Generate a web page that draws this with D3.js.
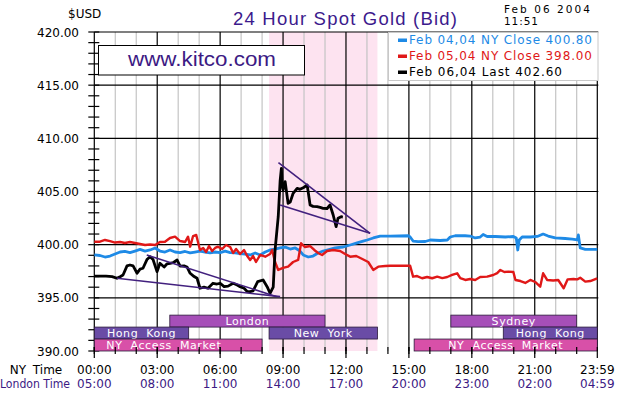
<!DOCTYPE html>
<html><head><meta charset="utf-8">
<script src="https://cdn.jsdelivr.net/npm/d3@7"></script>
<style>
html,body{margin:0;padding:0;background:#fff;}
svg{display:block;font-family:"DejaVu Sans",sans-serif;}
</style></head>
<body><svg id="c" width="630" height="400"></svg>
<script>
// ---------- data ----------
const tickHours = [0,3,6,9,12,15,18,21,23.983];
const nyTimes = ["00:00","03:00","06:00","09:00","12:00","15:00","18:00","21:00","23:59"];
const londonTimes = ["05:00","08:00","11:00","14:00","17:00","20:00","23:00","02:00","04:59"];
const yTicks = [390,395,400,405,410,415,420];
const yLabels = ["390.00","395.00","400.00","405.00","410.00","415.00","420.00"];

// Feb 04 NY close series [hour, price]
const feb04 = [[0,399.03],[0.27,398.98],[0.51,398.84],[0.75,398.93],[0.99,399.12],[1.23,399.31],[1.46,399.36],[1.70,399.26],[1.94,399.40],[2.18,399.55],[2.42,399.40],[2.66,399.50],[2.90,399.69],[3.13,399.40],[3.37,399.31],[3.61,399.50],[3.85,399.31],[4.09,399.26],[4.33,399.36],[4.57,399.22],[4.80,399.31],[5.04,399.40],[5.28,399.31],[5.52,399.22],[5.76,399.31],[6.00,399.26],[6.24,399.40],[6.48,399.26],[6.71,399.22],[6.95,399.17],[7.19,399.12],[7.43,399.03],[7.67,399.22],[7.91,399.03],[8.15,399.31],[8.38,399.50],[8.62,399.59],[8.86,399.69],[9.10,399.78],[9.34,399.59],[9.58,399.69],[9.81,399.40],[9.96,399.03],[10.2,398.84],[10.43,398.93],[10.67,399.22],[10.91,399.40],[11.1,399.50],[11.48,399.69],[11.87,399.78],[12.2,399.97],[12.53,400.16],[12.82,400.34],[13.01,400.44],[13.3,400.63],[13.63,400.81],[14.11,400.81],[14.97,400.84],[15.06,400.72],[15.2,400.34],[15.44,400.28],[15.78,400.30],[16.02,400.44],[16.49,400.39],[16.83,400.44],[16.97,400.72],[17.21,400.84],[17.68,400.84],[17.92,400.81],[18.16,400.63],[18.4,400.72],[18.54,400.96],[18.73,400.77],[19.12,400.77],[19.6,400.72],[19.98,400.77],[20.12,400.63],[20.19,399.50],[20.26,400.44],[20.4,400.72],[20.79,400.72],[21.12,400.77],[21.4,401.00],[21.64,400.81],[21.98,400.63],[22.45,400.58],[22.79,400.53],[23.03,400.44],[23.08,400.91],[23.17,399.69],[23.41,399.56],[23.98,399.56]];

// Feb 05 NY close series
const feb05 = [[0,400.28],[0.27,400.28],[0.51,400.44],[0.75,400.34],[0.99,400.20],[1.23,400.25],[1.46,400.16],[1.70,400.25],[1.94,400.16],[2.18,400.06],[2.42,399.97],[2.66,400.01],[2.90,399.97],[3.13,400.25],[3.37,400.28],[3.61,400.63],[3.85,400.75],[4.09,400.34],[4.33,400.25],[4.47,400.75],[4.57,399.81],[4.71,400.81],[4.86,400.91],[5.04,399.50],[5.19,399.69],[5.33,399.31],[5.47,399.87],[5.62,399.40],[5.76,399.69],[5.90,399.81],[6.10,399.59],[6.28,399.97],[6.48,399.78],[6.62,399.22],[6.76,399.59],[6.95,399.12],[7.14,399.50],[7.29,398.93],[7.43,398.56],[7.57,398.93],[7.71,398.37],[7.91,399.03],[8.15,398.87],[8.38,399.12],[8.48,399.50],[8.62,398.37],[8.77,397.62],[9.0,397.81],[9.24,397.93],[9.48,398.37],[9.72,398.56],[9.86,400.13],[10.05,399.78],[10.29,399.87],[10.49,399.50],[10.67,399.22],[10.86,399.03],[11.1,399.40],[11.39,399.50],[11.72,399.40],[11.96,399.12],[12.2,398.87],[12.49,398.93],[12.78,398.65],[13.06,398.37],[13.3,397.62],[13.54,397.93],[13.87,397.99],[14.11,398.02],[14.58,398.02],[15.06,398.02],[15.2,396.99],[15.39,397.05],[15.63,396.84],[15.87,396.96],[16.11,396.84],[16.35,396.99],[16.59,396.86],[16.83,396.96],[17.06,397.15],[17.3,397.31],[17.45,396.86],[17.69,396.68],[17.92,396.77],[18.16,396.68],[18.4,396.96],[18.73,396.99],[19.02,397.15],[19.21,397.33],[19.36,397.62],[19.55,397.43],[19.74,397.46],[19.98,397.43],[20.08,396.68],[20.32,396.58],[20.55,396.40],[20.79,396.68],[21.02,396.49],[21.26,396.05],[21.4,397.31],[21.59,396.68],[21.88,396.63],[22.12,396.68],[22.38,395.90],[22.57,396.74],[22.85,396.77],[23.03,396.74],[23.17,396.89],[23.41,396.52],[23.65,396.58],[23.98,396.84]];

// Feb 06 live series
const feb06 = [[0,397.05],[0.27,397.05],[0.56,397.05],[0.85,397.0],[1.08,396.84],[1.23,396.99],[1.37,397.15],[1.56,398.0],[1.70,398.09],[1.85,398.0],[2.04,397.31],[2.18,397.7],[2.32,397.78],[2.51,398.6],[2.66,398.87],[2.80,398.6],[2.99,397.46],[3.13,398.25],[3.33,397.9],[3.47,398.2],[3.61,398.25],[3.76,398.3],[3.95,398.56],[4.09,397.98],[4.28,398.0],[4.42,397.9],[4.57,397.31],[4.76,397.0],[4.90,396.84],[5.04,395.90],[5.23,396.0],[5.42,395.9],[5.66,396.37],[5.85,396.3],[6.00,396.37],[6.19,396.05],[6.38,396.1],[6.62,396.37],[6.81,396.2],[6.95,396.05],[7.14,395.9],[7.29,395.6],[7.43,395.58],[7.57,395.65],[7.79,396.52],[8.05,396.68],[8.24,396.05],[8.38,395.43],[8.53,396.0],[8.62,399.5],[8.77,402.63],[8.86,406.0],[8.92,407.18],[8.96,405.5],[9.0,405.14],[9.10,405.92],[9.24,403.89],[9.34,404.0],[9.48,404.83],[9.67,405.30],[9.81,405.2],[9.96,405.35],[10.15,405.61],[10.29,403.73],[10.43,403.6],[10.62,403.57],[10.77,403.5],[10.91,403.42],[11.1,403.4],[11.24,403.73],[11.39,402.79],[11.53,401.69],[11.62,402.48],[11.77,402.63],[11.85,402.60]];

// trend-line annotations: [[hour, price],[hour, price]]
const trendLines = [
  [[1.08,396.84],[8.86,395.11]],
  [[2.5,399.03],[8.70,395.11]],
  [[8.78,407.71],[13.15,401.07]],
  [[8.86,403.73],[13.15,401.07]]
];

// market sessions: name, start hour, end hour, row (0 top), kind
const sessions = [
  {name:"London", start:3.6, end:11.0, row:0, kind:"eu"},
  {name:"Sydney", start:17.0, end:23.0, row:0, kind:"eu"},
  {name:"Hong Kong", start:0, end:4.5, row:1, kind:"asia"},
  {name:"New York", start:8.333, end:13.5, row:1, kind:"asia"},
  {name:"Hong Kong", start:19.5, end:23.983, row:1, kind:"asia"},
  {name:"NY Access Market", start:0, end:8.0, row:2, kind:"acc"},
  {name:"NY Access Market", start:15.25, end:23.983, row:2, kind:"acc"}
];
const comexBand = [8.333, 13.5];

const legendItems = [
  {label:"Feb 04,04 NY Close 400.80", color:"#1e8ae6"},
  {label:"Feb 05,04 NY Close 398.00", color:"#e01818"},
  {label:"Feb 06,04 Last 402.60", color:"#000000"}
];

// ---------- drawing ----------
const svg = d3.select("#c");
const x = d3.scaleLinear().domain([0,23.983]).range([94.3,597.3]);
const y = d3.scaleLinear().domain([390,420]).range([351,32]);
const sessColor = {eu:"#a64fb8", asia:"#6a4ca6", acc:"#d850a8"};

svg.append("rect").attr("width",630).attr("height",400).attr("fill","#fff");

// comex band
svg.append("rect")
  .attr("x",x(comexBand[0])).attr("width",x(comexBand[1])-x(comexBand[0]))
  .attr("y",y(420)).attr("height",y(390)-y(420))
  .attr("fill","#fde3f0");

// vertical grid
const g = svg.append("g");
const hours = d3.range(1,24);
g.selectAll("line.vg").data(hours.filter(h=>h%3!==0)).join("line")
  .attr("x1",d=>x(d)).attr("x2",d=>x(d)).attr("y1",y(420)).attr("y2",y(390))
  .attr("stroke","#c4c4c4").attr("stroke-width",1.2);
g.selectAll("line.vb").data(tickHours).join("line")
  .attr("x1",d=>x(d)).attr("x2",d=>x(d)).attr("y1",y(420)).attr("y2",y(390))
  .attr("stroke","#000").attr("stroke-width",1.2);
g.selectAll("line.hb").data(yTicks.filter(v=>v>390)).join("line")
  .attr("x1",x(0)).attr("x2",x(23.983)+1).attr("y1",d=>y(d)).attr("y2",d=>y(d))
  .attr("stroke","#000").attr("stroke-width",1.2);

// y ticks
g.selectAll("line.yt").data(d3.range(390,421)).join("line")
  .attr("x1",x(0)-6).attr("x2",x(0)+5).attr("y1",d=>y(d)).attr("y2",d=>y(d))
  .attr("stroke","#000").attr("stroke-width",1.2);
svg.selectAll("text.yl").data(yTicks).join("text")
  .attr("x",79).attr("y",d=>y(d)+4.5).attr("text-anchor","end")
  .attr("font-size",12).attr("fill","#000").text((d,i)=>yLabels[i]);

// series lines
const line = d3.line().x(d=>x(d[0])).y(d=>y(d[1]));
svg.append("path").datum(feb04).attr("d",line).attr("fill","none")
  .attr("stroke","#1e8ae6").attr("stroke-width",2.8).attr("stroke-linejoin","round");
svg.append("path").datum(feb05).attr("d",line).attr("fill","none")
  .attr("stroke","#e01818").attr("stroke-width",2.4).attr("stroke-linejoin","round");
svg.append("path").datum(feb06).attr("d",line).attr("fill","none")
  .attr("stroke","#000").attr("stroke-width",2.8).attr("stroke-linejoin","round");

// trend lines
svg.selectAll("path.tl").data(trendLines).join("path")
  .attr("d",line).attr("fill","none").attr("stroke","#42207e").attr("stroke-width",1.6);

// kitco box
svg.append("rect").attr("x",98.5).attr("y",45.5).attr("width",206).attr("height",29.5)
  .attr("fill","#fff").attr("stroke","#000").attr("stroke-width",1);
svg.append("text").attr("x",128).attr("y",66).attr("font-family","'Liberation Sans',Arial,sans-serif")
  .attr("font-size",21).attr("fill","#3c1a84").attr("textLength",148).attr("lengthAdjust","spacingAndGlyphs")
  .text("www.kitco.com");

// legend box
svg.append("rect").attr("x",388.5).attr("y",32.5).attr("width",209.5).attr("height",48)
  .attr("fill","#fff").attr("stroke","#c8c8c8").attr("stroke-width",1);
const lg = svg.selectAll("g.lg").data(legendItems).join("g")
  .attr("transform",(d,i)=>`translate(0,${44+i*16})`);
lg.append("rect").attr("x",398).attr("y",-5.5).attr("width",9).attr("height",3.5).attr("fill",d=>d.color);
lg.append("text").attr("x",409).attr("y",0).attr("font-size",12).attr("fill",d=>d.color)
  .attr("textLength",(d,i)=>i<2?183:153).attr("lengthAdjust","spacing")
  .text(d=>d.label);

// session bars
const rowTop = r => y(390 + (3-r)*1.125);
const rowH = y(390) - y(391.125);
const sg = svg.selectAll("g.sess").data(sessions).join("g");
sg.append("rect")
  .attr("x",d=>x(d.start)).attr("y",d=>rowTop(d.row))
  .attr("width",d=>x(d.end)-x(d.start)).attr("height",rowH)
  .attr("fill",d=>sessColor[d.kind]).attr("stroke","#2a1a3a").attr("stroke-width",0.8);
sg.append("text")
  .attr("x",d=>d.start===0 && d.kind==="acc" ? x(d.start)+12 : (x(d.start)+x(d.end))/2)
  .attr("text-anchor",d=>d.start===0 && d.kind==="acc" ? "start":"middle")
  .attr("y",d=>rowTop(d.row)+rowH-2)
  .attr("font-size",11).attr("fill","#fff").attr("letter-spacing",0.6).attr("word-spacing",4)
  .text(d=>d.name);

// x ticks
svg.selectAll("line.xt").data(d3.range(0,24)).join("line")
  .attr("x1",d=>x(d)).attr("x2",d=>x(d)).attr("y1",347).attr("y2",354)
  .attr("stroke","#000").attr("stroke-width",1.2);
svg.selectAll("line.xt3").data(tickHours).join("line")
  .attr("x1",d=>x(d)).attr("x2",d=>x(d)).attr("y1",347).attr("y2",358)
  .attr("stroke","#000").attr("stroke-width",1.2);
svg.selectAll("text.ny").data(tickHours).join("text")
  .attr("x",d=>x(d)).attr("y",374).attr("text-anchor","middle").attr("font-size",12)
  .attr("fill","#000").text((d,i)=>nyTimes[i]);
svg.selectAll("text.ld").data(tickHours).join("text")
  .attr("x",d=>x(d)).attr("y",388).attr("text-anchor","middle").attr("font-size",12)
  .attr("fill","#3c1a84").text((d,i)=>londonTimes[i]);
svg.append("text").attr("x",36).attr("y",374).attr("text-anchor","middle").attr("font-size",12)
  .attr("fill","#000").attr("word-spacing",3).text("NY Time");
svg.append("text").attr("x",35).attr("y",388).attr("text-anchor","middle").attr("font-size",12)
  .attr("fill","#3c1a84").attr("textLength",70).attr("lengthAdjust","spacingAndGlyphs").text("London Time");

// header texts
svg.append("text").attr("x",68).attr("y",18).attr("font-size",12).attr("fill","#000").text("$USD");
svg.append("text").attr("x",233).attr("y",25).attr("font-family","'Liberation Sans',Arial,sans-serif")
  .attr("font-size",18.5).attr("fill","#3c1a8c").attr("textLength",224).attr("lengthAdjust","spacing")
  .text("24 Hour Spot Gold (Bid)");
svg.append("text").attr("x",504).attr("y",12.5).attr("font-size",10.5).attr("fill","#000")
  .attr("textLength",86).attr("lengthAdjust","spacing").text("Feb 06 2004");
svg.append("text").attr("x",504).attr("y",24.5).attr("font-size",10.5).attr("fill","#000")
  .attr("textLength",34).attr("lengthAdjust","spacing").text("11:51");
</script></body></html>
